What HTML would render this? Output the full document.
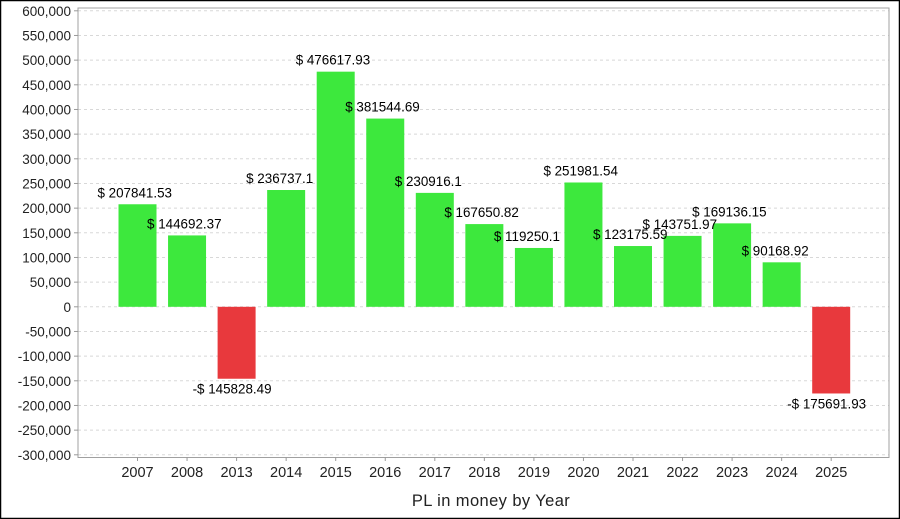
<!DOCTYPE html>
<html><head><style>
body{margin:0;background:#fff;}
svg{display:block;font-family:"Liberation Sans",sans-serif;}
</style></head><body>
<svg width="900" height="519" xmlns="http://www.w3.org/2000/svg">
<rect x="0.5" y="0.5" width="899" height="518" fill="#fff" stroke="#000" stroke-width="1.5"/>
<g id="grid" stroke="#d8d8d8" stroke-dasharray="3,3" stroke-width="1"></g>
<g id="bars"></g>
<rect x="78" y="8" width="811" height="449.5" fill="none" stroke="#a0a0a0"/>
<g id="yl" font-size="13.5" fill="#222" text-anchor="end"></g>
<g id="xl" font-size="14.5" fill="#222" text-anchor="middle"></g>
<g id="vl" font-size="13.4" fill="#000"></g>
<text x="491" y="506" font-size="16.5" fill="#222" text-anchor="middle" letter-spacing="0.4">PL in money by Year</text>
<script>
var ns="http://www.w3.org/2000/svg";
function el(p,t,a,txt){var e=document.createElementNS(ns,t);for(var k in a)e.setAttribute(k,a[k]);if(txt!==undefined)e.textContent=txt;document.getElementById(p).appendChild(e);}
var z=306.8,s=444/900000;
for(var v=-300000;v<=600000;v+=50000){var y=z-v*s;
el("grid","line",{x1:78,x2:889,y1:y,y2:y});
el("yl","text",{x:71,y:y+5},v.toLocaleString("en-US"));
el("yl","line",{x1:74,x2:78,y1:y,y2:y,stroke:"#999"});}
var d=[["2007",207841.53],["2008",144692.37],["2013",-145828.49],["2014",236737.1],["2015",476617.93],["2016",381544.69],["2017",230916.1],["2018",167650.82],["2019",119250.1],["2020",251981.54],["2021",123175.59],["2022",143751.97],["2023",169136.15],["2024",90168.92],["2025",-175691.93]];
d.forEach(function(r,i){var c=137.5+i*49.55,v=r[1],y=z-v*s;
if(v>=0){el("bars","rect",{x:c-19,y:y,width:38,height:z-y,fill:"#3de83d"});
el("vl","text",{x:c-40,y:y-7},"$ "+v);}
else{el("bars","rect",{x:c-19,y:z,width:38,height:y-z,fill:"#e8393d"});
el("vl","text",{x:c-44,y:y+15},"-$ "+(-v));}
el("xl","text",{x:c,y:477},r[0]);
el("xl","line",{x1:c,x2:c,y1:457,y2:461,stroke:"#999"});});
</script>
</svg>
</body></html>
